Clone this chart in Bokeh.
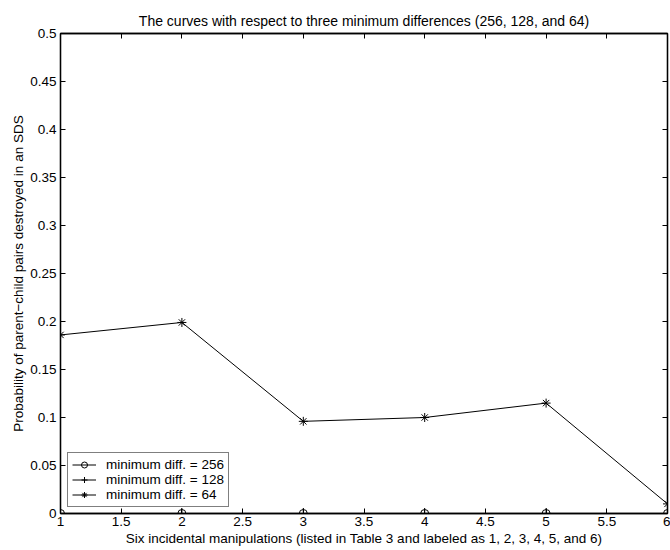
from bokeh.plotting import figure
from bokeh.models import (Range1d, FixedTicker, LinearAxis, Legend, LegendItem,
                          CustomLabelingPolicy)
from bokeh.embed import file_html
from bokeh.resources import INLINE

# ---- data ----
x_vals = [1, 2, 3, 4, 5, 6]
diff_256 = [0.0, 0.0, 0.0, 0.0, 0.0, 0.0]
diff_128 = [0.0, 0.0, 0.0, 0.0, 0.0, 0.0]
diff_64 = [0.186, 0.199, 0.096, 0.100, 0.115, 0.010]
series_labels = ["minimum diff. = 256", "minimum diff. = 128", "minimum diff. = 64"]
x_ticks = [1, 1.5, 2, 2.5, 3, 3.5, 4, 4.5, 5, 5.5, 6]
x_tick_labels = ["1", "1.5", "2", "2.5", "3", "3.5", "4", "4.5", "5", "5.5", "6"]
y_ticks = [0, 0.05, 0.1, 0.15, 0.2, 0.25, 0.3, 0.35, 0.4, 0.45, 0.5]
y_tick_labels = ["0", "0.05", "0.1", "0.15", "0.2", "0.25", "0.3", "0.35", "0.4", "0.45", "0.5"]
title_text = "The curves with respect to three minimum differences (256, 128, and 64)"
x_label = "Six incidental manipulations (listed in Table 3 and labeled as 1, 2, 3, 4, 5, and 6)"
y_label = "Probability of parent\u2212child pairs destroyed in an SDS"

FONT = "Liberation Sans"
FS = "13.5px"

p = figure(width=670, height=550, output_backend="svg", toolbar_location=None,
           x_range=Range1d(1, 6), y_range=Range1d(0, 0.5),
           title=title_text,
           min_border_left=60, min_border_right=3, min_border_top=33, min_border_bottom=37)

p.title.align = "center"
p.title.vertical_align = "middle"
p.title.text_font = FONT
p.title.text_font_size = "14px"
p.title.text_font_style = "normal"
p.title.text_color = "black"
p.title.standoff = 7

p.xgrid.visible = False
p.ygrid.visible = False
p.outline_line_color = "black"
p.outline_line_width = 1.3
p.background_fill_color = "white"
p.border_fill_color = "white"

hide_all = CustomLabelingPolicy(code="for (const i of Array.from(indices)) { indices.unset(i) }\nreturn indices")

def style_axis(ax, ticks, labels, show_labels=True):
    ax.ticker = FixedTicker(ticks=ticks)
    ax.major_label_overrides = {t: l for t, l in zip(ticks, labels)}
    ax.major_tick_in = 5
    ax.major_tick_out = 0
    ax.minor_tick_in = 0
    ax.minor_tick_out = 0
    ax.axis_line_color = "black"
    ax.axis_line_width = 1.3
    ax.major_tick_line_color = "black"
    ax.major_tick_line_width = 1
    ax.major_label_text_font = FONT
    ax.major_label_text_font_size = FS
    ax.major_label_text_color = "black"
    ax.major_label_standoff = 3
    ax.axis_label_text_font = FONT
    ax.axis_label_text_font_size = FS
    ax.axis_label_text_font_style = "normal"
    ax.axis_label_text_color = "black"
    if not show_labels:
        ax.major_label_policy = hide_all
        ax.major_label_text_font_size = "0px"
        ax.major_label_standoff = 0

style_axis(p.xaxis[0], x_ticks, x_tick_labels)
style_axis(p.yaxis[0], y_ticks, y_tick_labels)
p.xaxis[0].axis_label = x_label
p.yaxis[0].axis_label = y_label
p.xaxis[0].axis_label_standoff = 2
p.yaxis[0].axis_label_standoff = 1
p.yaxis[0].major_label_standoff = 4

top_ax = LinearAxis()
right_ax = LinearAxis()
style_axis(top_ax, x_ticks, x_tick_labels, show_labels=False)
style_axis(right_ax, y_ticks, y_tick_labels, show_labels=False)
p.add_layout(top_ax, "above")
p.add_layout(right_ax, "right")

# ---- series ----
l1 = p.line(x_vals, diff_256, line_color="black", line_width=1)
m1 = p.scatter(x_vals, diff_256, marker="circle", size=8, line_color="black",
               fill_color=None, line_width=1)
l2 = p.line(x_vals, diff_128, line_color="black", line_width=1)
m2 = p.scatter(x_vals, diff_128, marker="cross", size=11, line_color="black", line_width=1)
l3 = p.line(x_vals, diff_64, line_color="black", line_width=1)
m3 = p.scatter(x_vals, diff_64, marker="asterisk", size=9, line_color="black", line_width=1)

legend = Legend(items=[
    LegendItem(label=series_labels[0], renderers=[l1, m1]),
    LegendItem(label=series_labels[1], renderers=[l2, m2]),
    LegendItem(label=series_labels[2], renderers=[l3, m3]),
], location=(7, 6))
legend.margin = 0
legend.padding = 4
legend.spacing = 0
legend.glyph_width = 24
legend.glyph_height = 15
legend.label_height = 15
legend.label_standoff = 10
legend.label_text_font = FONT
legend.label_text_font_size = FS
legend.label_text_color = "black"
legend.border_line_color = "black"
legend.border_line_width = 1
legend.background_fill_color = "white"
legend.background_fill_alpha = 1
p.add_layout(legend, "center")

open("out.html", "w").write(file_html(p, INLINE))
